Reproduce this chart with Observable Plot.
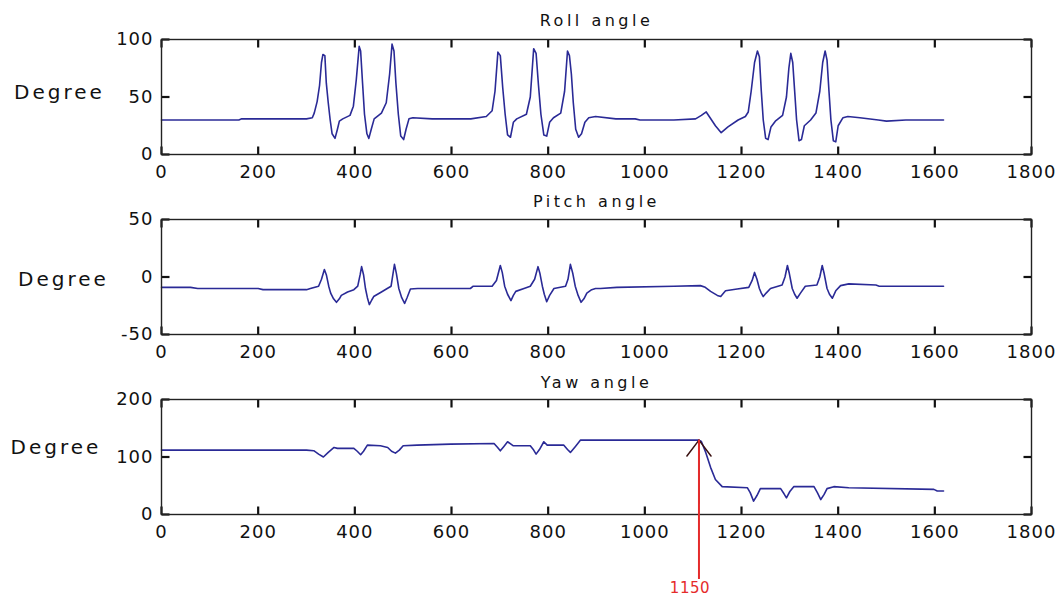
<!DOCTYPE html>
<html><head><meta charset="utf-8">
<script src="https://cdn.jsdelivr.net/npm/d3@7"></script>
<script src="https://cdn.jsdelivr.net/npm/@observablehq/plot@0.6"></script>
<style>
html,body{margin:0;padding:0;background:#fff;}
#chart svg{display:block;}
svg [font-size="16"]{letter-spacing:3.5px;}
svg [font-size="20"]{letter-spacing:3px;}
svg [font-size="18"]{letter-spacing:1px;}
svg [font-size="15"]{letter-spacing:0.5px;}
</style></head><body><div id="chart"></div>
<script>
// ---- data ----
const xTicks = [0, 200, 400, 600, 800, 1000, 1200, 1400, 1600, 1800];
const titles = ["Roll angle", "Pitch angle", "Yaw angle"];
const rollTicks = [0, 50, 100];
const pitchTicks = [-50, 0, 50];
const yawTicks = [0, 100, 200];

const rollT = [0,160,166,300,312,316,322,327,331,334,338,341,345,349,353,359,364,368,375,390,397,403,409,412,416,420,425,429,434,440,455,465,472,477,481,485,490,495,501,506,512,520,560,640,672,684,690,696,701,706,711,716,722,728,735,755,763,770,775,780,785,791,797,803,811,826,834,840,844,848,852,857,863,869,876,884,898,940,980,990,1060,1105,1117,1127,1135,1146,1158,1172,1193,1208,1214,1220,1227,1233,1237,1241,1245,1250,1255,1261,1270,1285,1293,1298,1302,1306,1310,1314,1319,1324,1330,1343,1354,1362,1368,1373,1377,1381,1385,1390,1395,1400,1410,1420,1445,1483,1500,1540,1618];
const rollV = [30,30,31,31,32,36,46,60,80,87,86,62,45,30,18,14,22,29,31,34,42,65,94,90,62,35,18,14,22,31,36,45,70,96,90,62,35,16,13,22,31,32,31,31,33,38,55,89,86,58,35,17,15,28,31,35,50,92,88,60,35,17,16,28,32,36,55,90,86,70,45,22,15,18,28,32,33,31,31,30,30,31,34,37,32,25,19,24,30,33,37,55,80,90,85,55,30,14,13,24,29,34,50,75,88,80,55,30,12,13,25,30,36,55,80,90,82,55,30,12,11,25,32,33,32,30,29,30,30];

const pitchT = [0,60,75,200,210,300,308,325,331,337,341,346,350,356,362,368,372,385,398,406,411,414,418,422,426,430,435,439,455,467,475,479,482,486,491,497,503,508,515,530,639,645,684,693,701,705,710,716,723,728,733,750,763,772,779,783,788,792,797,803,812,836,841,846,851,856,862,868,874,880,890,898,908,942,1060,1115,1125,1136,1150,1157,1163,1167,1191,1215,1222,1227,1232,1237,1241,1245,1251,1260,1284,1290,1295,1299,1305,1310,1315,1322,1332,1356,1362,1367,1371,1377,1382,1388,1395,1405,1422,1478,1485,1618];
const pitchV = [-9,-9,-10,-10,-11,-11,-10,-8,-2,6.5,2,-8,-14,-19,-22,-19,-16,-13,-11,-8,2,9,2,-10,-18,-24,-20,-17,-13,-10,-8,3,11,3,-10,-18,-23,-18,-10.5,-10,-10,-8,-8,-3,10,4,-8,-15,-20.5,-16,-12.5,-10,-8,-2,9,3,-8,-15,-21.5,-16,-10,-8,-2,11,3,-8,-16,-22,-19,-14,-11,-10,-10,-9,-8,-7.5,-9,-12.5,-16,-17,-14,-12,-10.5,-9,-3,4,-2,-10,-14,-17,-14,-10,-7,0,10,3,-10,-15,-18.5,-14,-8,-7,0,10,3,-10,-15,-18.5,-12,-7.5,-6,-7,-8,-8];

const yawT = [0,300,315,325,335,345,357,364,398,405,412,418,426,453,468,476,484,492,500,529,598,688,695,701,708,716,728,763,770,775,782,791,798,832,840,846,856,867,908,1112,1117,1126,1136,1146,1160,1212,1218,1225,1232,1239,1281,1288,1293,1300,1308,1350,1357,1364,1371,1377,1391,1422,1598,1605,1618];
const yawV = [112,112,111,105,100,108,116.6,115,115,110,104,110,120.7,119.5,116.6,110,106.7,112,119.5,120.7,122.4,123.6,117,110.8,118,126.5,119.5,119.5,112,105,113,126.5,120.7,120.7,113,108,118,129.4,129.4,129.4,127,108,82,61,48.4,46.6,38,23.3,33,45,45,36,29,40,48.4,48.4,38,26,35,45,48.4,46.6,43.7,41,41];

// annotation on the yaw panel
const annX = [1112];
const annTop = [129.4];
const annBottom = [-113];
const annLabel = ["1150"];

// ---- drawing ----
const LINE = "#2a2a96";
const fmt = d => String(d);
const W = 1063, ML = 161, MR = 32, MT = 39, FH = 115, TICK = 8;
const FW = W - ML - MR;
const XD = [0, 1800];
function panel({title, t, v, yDomain, yTicks, degDx, degDy, height, titleDy, extra = []}) {
  const data = t.map((x, i) => ({x, y: v[i]}));
  const [y0, y1] = yDomain;
  const ty = (y1 - y0) * TICK / FH;      // tick length in y units
  const tx = (XD[1] - XD[0]) * TICK / FW; // tick length in x units
  const tickStyle = {stroke: "#111", strokeWidth: 2.2};
  return Plot.plot({
    width: W, height, marginTop: MT, marginBottom: height - MT - FH, marginLeft: ML, marginRight: MR,
    style: {fontFamily: "DejaVu Sans", background: "#fff", color: "#111", overflow: "visible"},
    x: {domain: XD, axis: null},
    y: {domain: yDomain, axis: null},
    marks: [
      Plot.line(data, {x: "x", y: "y", stroke: LINE, strokeWidth: 1.6}),
      // inward ticks (MATLAB style) on all four sides
      Plot.link(xTicks, {x1: d => d, x2: d => d, y1: y0, y2: y0 + ty, ...tickStyle}),
      Plot.link(xTicks, {x1: d => d, x2: d => d, y1: y1, y2: y1 - ty, ...tickStyle}),
      Plot.link(yTicks, {y1: d => d, y2: d => d, x1: XD[0], x2: XD[0] + tx, ...tickStyle}),
      Plot.link(yTicks, {y1: d => d, y2: d => d, x1: XD[1], x2: XD[1] - tx, ...tickStyle}),
      Plot.frame({stroke: "#222", strokeWidth: 1.4}),
      Plot.axisX(xTicks, {anchor: "bottom", tickSize: 0, tickPadding: 11, fontSize: 18, tickFormat: fmt, label: null}),
      Plot.axisY(yTicks, {anchor: "left", tickSize: 0, tickPadding: 8, fontSize: 18, tickFormat: fmt, label: null}),
      Plot.text([title], {frameAnchor: "top", text: d => d, dy: titleDy, lineAnchor: "bottom", fontSize: 16}),
      Plot.text(["Degree"], {frameAnchor: "left", text: d => d, textAnchor: "start", dx: degDx, dy: degDy, fontSize: 20}),
      ...extra
    ]
  });
}

const ann = annX.map((x, i) => ({x, top: annTop[i], bottom: annBottom[i], label: annLabel[i]}));
const annMarks = [
  Plot.arrow(ann, {x: "x", y1: d => d.top - 110, y2: "top", stroke: "#3a1010", strokeWidth: 1.5, headLength: 20, headAngle: 74}),
  Plot.ruleX(ann, {x: "x", y1: "bottom", y2: "top", stroke: "#e52b2b", strokeWidth: 2}),
  Plot.text(ann, {x: "x", y: "bottom", text: "label", fill: "#e52b2b", fontSize: 15, lineAnchor: "top", dy: 3, dx: -9})
];

const el = document.getElementById("chart");
el.append(panel({title: titles[0], t: rollT, v: rollV, yDomain: [0, 100], yTicks: rollTicks, degDx: -147.5, degDy: -4.5, height: 180, titleDy: -14}));
el.append(panel({title: titles[1], t: pitchT, v: pitchV, yDomain: [-50, 50], yTicks: pitchTicks, degDx: -143.5, degDy: 2.5, height: 180, titleDy: -13}));
el.append(panel({title: titles[2], t: yawT, v: yawV, yDomain: [0, 200], yTicks: yawTicks, degDx: -151, degDy: -9, height: 252, titleDy: -12, extra: annMarks}));
</script>
</body></html>
